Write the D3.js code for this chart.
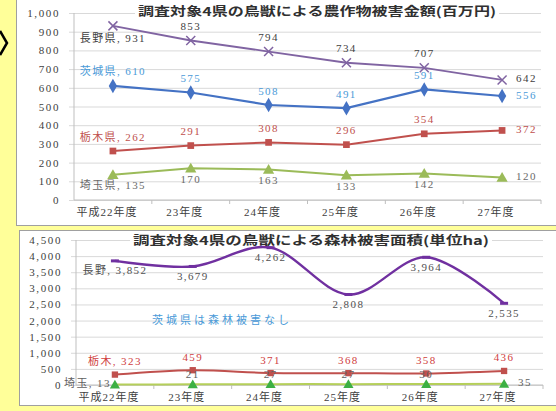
<!DOCTYPE html>
<html>
<head>
<meta charset="utf-8">
<script src="https://d3js.org/d3.v7.min.js"></script>
<style>
  body { margin: 0; background: #ffff99; }
  svg { display: block; }
  text { font-family: "Liberation Serif", "Noto Sans CJK JP", serif; }
  .tick-label { font-size: 11px; fill: #404040; letter-spacing: 1.6px; }
  .cat-label { font-size: 11px; fill: #404040; letter-spacing: 1px; }
  .title { font-size: 12px; font-weight: bold; fill: #303030; font-family: "Noto Sans CJK JP", sans-serif; }
  .dlabel { font-size: 11px; letter-spacing: 1.4px; }
</style>
</head>
<body>
<svg id="chart" width="556" height="411"></svg>
<script>
const years = ["平成22年度", "23年度", "24年度", "25年度", "26年度", "27年度"];

// 農作物被害金額(百万円)
const cropNagano = [931, 853, 794, 734, 707, 642];
const cropIbaraki = [610, 575, 508, 491, 591, 556];
const cropTochigi = [262, 291, 308, 296, 354, 372];
const cropSaitama = [135, 170, 163, 133, 142, 120];
const cropTicks = [0, 100, 200, 300, 400, 500, 600, 700, 800, 900, 1000];

// 森林被害面積(ha)
const forestNagano = [3852, 3679, 4262, 2808, 3964, 2535];
const forestTochigi = [323, 459, 371, 368, 358, 436];
const forestSaitama = [13, 21, 27, 27, 30, 35];
const forestTicks = [0, 500, 1000, 1500, 2000, 2500, 3000, 3500, 4000, 4500];

const svg = d3.select("#chart");
const fmt = d3.format(",");

// left arrow
svg.append("path")
  .attr("d", "M0,31 L7,43 L0,55")
  .attr("fill", "none").attr("stroke", "#000").attr("stroke-width", 2.5);

// panels
svg.append("rect").attr("x", 16.5).attr("y", -2).attr("width", 560).attr("height", 227.5)
  .attr("fill", "#fff").attr("stroke", "#a0a0a0");
svg.append("rect").attr("x", 19.5).attr("y", 230.5).attr("width", 560).attr("height", 175)
  .attr("fill", "#fff").attr("stroke", "#a0a0a0");

function drawChart(cfg) {
  const g = svg.append("g");
  const x = d3.scaleBand().domain(years).range(cfg.xRange);
  const y = d3.scaleLinear().domain(cfg.yDomain).range(cfg.yRange);
  const cx = d => x(d) + x.bandwidth() / 2;

  // gridlines
  g.append("g")
    .attr("transform", `translate(${cfg.xRange[0]},0)`)
    .call(d3.axisLeft(y).tickValues(cfg.ticks).tickSize(0).tickFormat(""))
    .call(a => a.select(".domain").remove())
    .call(a => a.selectAll("line").attr("stroke", "#d9d9d9").attr("x1", -5)
      .attr("x2", cfg.xRange[1] - cfg.xRange[0]));

  // y labels
  g.append("g")
    .attr("transform", `translate(${cfg.labelX},0)`)
    .call(d3.axisLeft(y).tickValues(cfg.ticks).tickSize(0).tickPadding(0).tickFormat(fmt))
    .call(a => a.select(".domain").remove())
    .call(a => a.selectAll("text").attr("class", "tick-label").attr("font-family", null).attr("font-size", null));

  // y axis line
  g.append("line")
    .attr("x1", cfg.xRange[0]).attr("x2", cfg.xRange[0])
    .attr("y1", cfg.yRange[0]).attr("y2", cfg.yRange[1])
    .attr("stroke", "#bfbfbf");

  // x axis
  g.append("line")
    .attr("x1", cfg.xRange[0]).attr("x2", cfg.xRange[1])
    .attr("y1", y(0)).attr("y2", y(0))
    .attr("stroke", "#bfbfbf");
  years.forEach(d => {
    g.append("line")
      .attr("x1", x(d) + x.bandwidth()).attr("x2", x(d) + x.bandwidth())
      .attr("y1", y(0)).attr("y2", y(0) + 4)
      .attr("stroke", "#bfbfbf");
    g.append("text").attr("class", "cat-label")
      .attr("x", cx(d) - 6).attr("y", cfg.catY)
      .attr("text-anchor", "middle").attr("dominant-baseline", "middle")
      .text(d);
  });

  // title
  const tw = cfg.title.w;
  g.append("rect").attr("x", cfg.title.x - 3).attr("y", cfg.title.y - 7).attr("width", tw + 6).attr("height", 14).attr("fill", "#fff");
  g.append("text").attr("class", "title")
    .attr("x", cfg.title.x).attr("y", cfg.title.y)
    .attr("dominant-baseline", "middle")
    .attr("textLength", tw).attr("lengthAdjust", "spacingAndGlyphs")
    .text(cfg.title.text);

  // series
  cfg.series.forEach(s => {
    const line = d3.line().x((v, i) => cx(years[i])).y(v => y(v));
    if (s.smooth) line.curve(d3.curveCardinal.tension(0));
    g.append("path").datum(s.values)
      .attr("d", line).attr("fill", "none")
      .attr("stroke", s.color).attr("stroke-width", s.width);

    s.values.forEach((v, i) => {
      const px = cx(years[i]), py = y(v);
      if (s.marker === "x") {
        g.append("path").attr("d", `M${px - 4.5},${py - 4.5}L${px + 4.5},${py + 4.5}M${px - 4.5},${py + 4.5}L${px + 4.5},${py - 4.5}`)
          .attr("stroke", s.color).attr("stroke-width", 1.5);
      } else if (s.marker === "dash") {
        g.append("path").attr("d", `M${px - 4},${py}L${px + 4},${py}`)
          .attr("stroke", s.color).attr("stroke-width", 3);
      } else {
        const type = { diamond: d3.symbolDiamond, square: d3.symbolSquare, triangle: d3.symbolTriangle }[s.marker];
        g.append("path").attr("d", d3.symbol().type(type).size(s.msize)())
          .attr("transform", `translate(${px},${py + (s.marker === "triangle" ? 1 : 0)})`)
          .attr("fill", s.mcolor || s.color);
      }

      // data labels
      let txt = fmt(v), lx = px, ly = py, anchor = "middle";
      if (i === 0) txt = s.name + ", " + fmt(v);
      const pos = i === 0 ? s.first : (i === s.values.length - 1 ? s.last : s.pos);
      if (pos === "above") ly = py - s.off;
      else if (pos === "below") ly = py + s.off;
      else if (pos === "right") { lx = px + 14; anchor = "start"; }
      else if (pos === "left") { lx = 64; anchor = "start"; }
      g.append("text").attr("class", "dlabel")
        .attr("x", lx).attr("y", ly)
        .attr("text-anchor", anchor).attr("dominant-baseline", "middle")
        .attr("fill", s.lcolor)
        .text(txt);
    });
  });

  return { x, y, g };
}

drawChart({
  xRange: [74, 541], yDomain: [0, 1000], yRange: [200, 13], ticks: cropTicks,
  labelX: 60, catY: 213,
  title: { text: "調査対象4県の鳥獣による農作物被害金額(百万円)", x: 138, y: 13, w: 358 },
  series: [
    { name: "長野県", values: cropNagano, color: "#8064a2", width: 1.8, marker: "x", lcolor: "#404040",
      first: "below", pos: "above", last: "right", off: 13.5 },
    { name: "茨城県", values: cropIbaraki, color: "#4472c4", width: 2.2, marker: "diamond", msize: 60, lcolor: "#4a9ad8",
      first: "above", pos: "above", last: "right", off: 13 },
    { name: "栃木県", values: cropTochigi, color: "#c0504d", width: 2, marker: "square", msize: 45, lcolor: "#c0504d",
      first: "above", pos: "above", last: "right", off: 13 },
    { name: "埼玉県", values: cropSaitama, color: "#9bbb59", width: 2, marker: "triangle", msize: 55, lcolor: "#6a6a6a",
      first: "below", pos: "below", last: "right", off: 12 }
  ]
});

const bottom = drawChart({
  xRange: [76, 543], yDomain: [0, 4500], yRange: [385, 240], ticks: forestTicks,
  labelX: 62, catY: 398,
  title: { text: "調査対象4県の鳥獣による森林被害面積(単位ha)", x: 133, y: 242, w: 356 },
  series: [
    { name: "長野", values: forestNagano, color: "#7030a0", width: 2.4, marker: "dash", smooth: true, lcolor: "#505050",
      first: "below", pos: "below", last: "below", off: 11 },
    { name: "栃木", values: forestTochigi, color: "#c0504d", width: 2, marker: "square", msize: 40, smooth: true, lcolor: "#d04040",
      first: "above", pos: "above", last: "above", off: 12 },
    { name: "埼玉", values: forestSaitama, color: "#b5cf5a", mcolor: "#3cb043", width: 2, marker: "triangle", msize: 45, smooth: true, lcolor: "#606060",
      first: "left", pos: "above", last: "right", off: 9 }
  ]
});

// note for Ibaraki
bottom.g.append("text").attr("class", "dlabel")
  .attr("x", 152).attr("y", 321).attr("dominant-baseline", "middle")
  .attr("fill", "#4a9ad8").style("letter-spacing", "3px")
  .text("茨城県は森林被害なし");
</script>
</body>
</html>
